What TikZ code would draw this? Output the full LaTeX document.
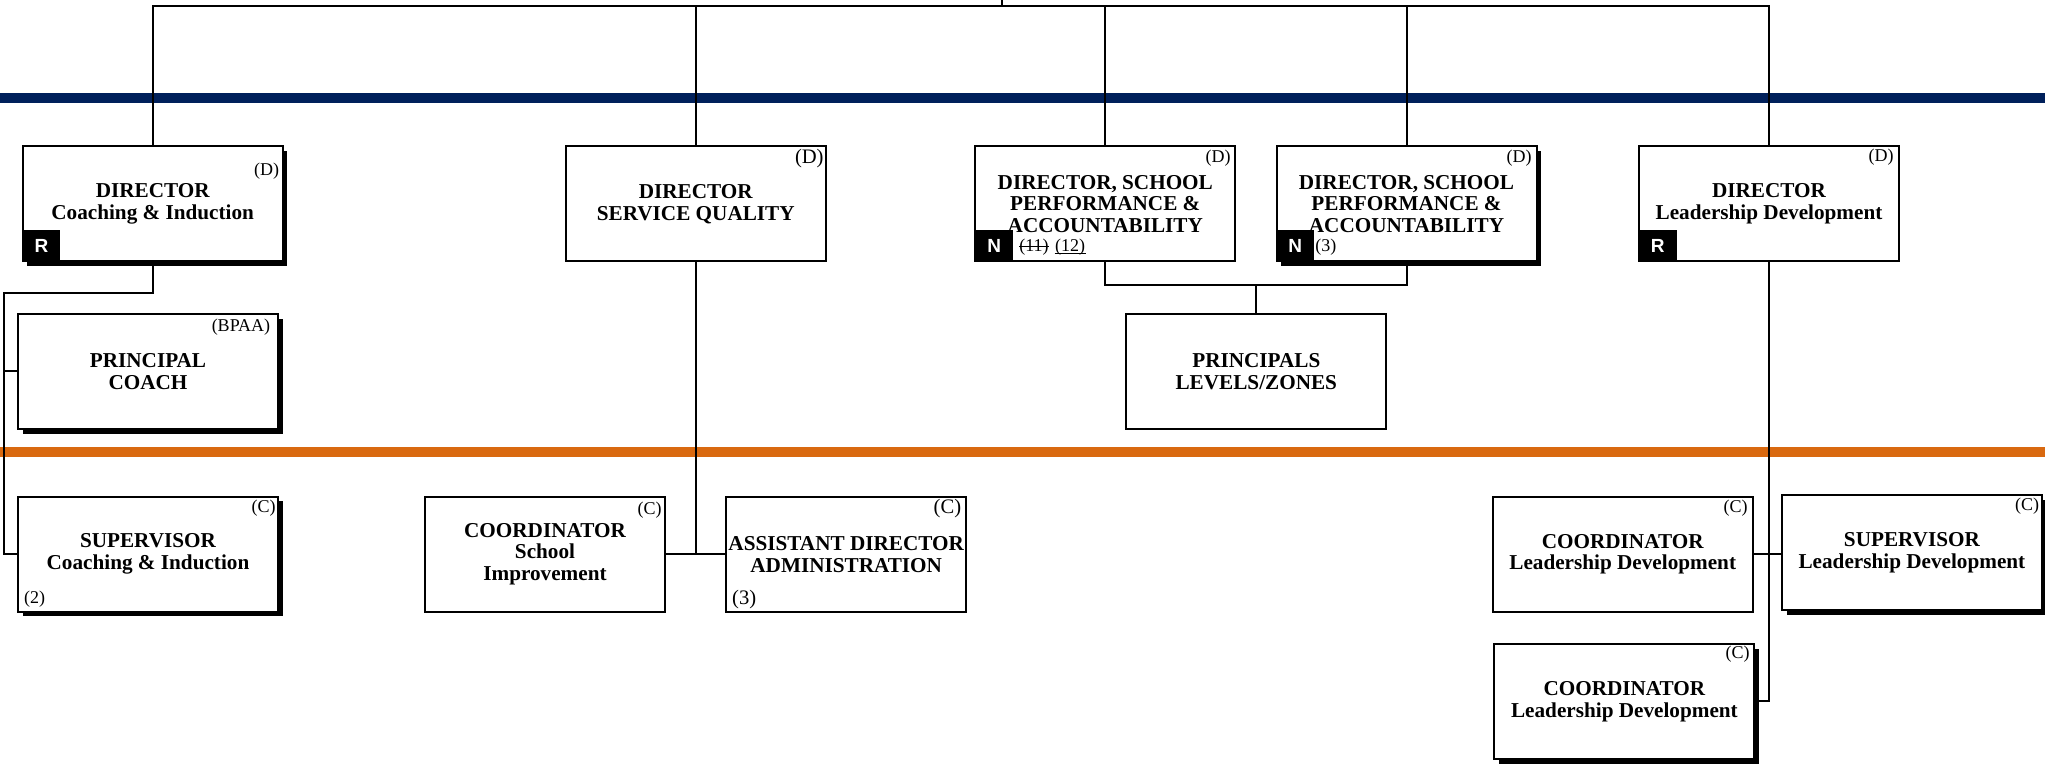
\documentclass[tikz,border=0pt]{standalone}
\usepackage{fontspec}
\setmainfont{Liberation Serif}
\newfontfamily\badgefont{Liberation Sans}
\usetikzlibrary{shadows}
\definecolor{navyband}{RGB}{0,32,91}
\definecolor{orangeband}{RGB}{217,105,16}
\tikzset{
  box/.style={draw=black, line width=1pt, fill=white, inner sep=0pt, outer sep=0pt, align=center,
    minimum width=130pt, minimum height=57.5pt,
    font=\fontsize{10.6}{10.95}\selectfont\bfseries},
  narrowbox/.style={box, minimum width=120pt},
  shbox/.style={box, drop shadow={shadow xshift=2.3pt, shadow yshift=-2.3pt, opacity=1, fill=black}},
  wire/.style={line width=1pt, draw=black},
  thinline/.style={line width=0.45pt, draw=black},
  badge/.style={fill=black, text=white, inner sep=0pt, outer sep=0pt, minimum width=18.8pt, minimum height=15.5pt,
    font=\fontsize{9.5}{9.5}\badgefont\bfseries},
  lbl/.style={inner sep=0pt, font=\fontsize{9}{9}\selectfont},
  biglbl/.style={inner sep=0pt, font=\fontsize{10.3}{10.3}\selectfont},
}
\begin{document}
\begin{tikzpicture}[x=0.5pt, y=-0.5pt]
\useasboundingbox (0,0) rectangle (2045,769);
% bands
\fill[navyband] (0,93.3) rectangle (2045,103.3);
\fill[orangeband] (0,446.7) rectangle (2045,456.7);

% top row
\node[shbox] (dci) at (152.7,204) {DIRECTOR\\Coaching \& Induction};
\node[box] (dsq) at (695.8,204) {DIRECTOR\\SERVICE QUALITY};
\node[box] (dspa1) at (1105.3,204) {DIRECTOR, SCHOOL\\PERFORMANCE \&\\ACCOUNTABILITY};
\node[shbox] (dspa2) at (1406.5,204) {DIRECTOR, SCHOOL\\PERFORMANCE \&\\ACCOUNTABILITY};
\node[box] (dld) at (1769,204) {DIRECTOR\\Leadership Development};

% second row
\node[shbox] (pcoach) at (148,371.5) {PRINCIPAL\\COACH};
\node[box] (princ) at (1256.3,371.2) {PRINCIPALS\\LEVELS/ZONES};

% third row
\node[shbox] (sci) at (148,554.2) {SUPERVISOR\\Coaching \& Induction};
\node[narrowbox] (csi) at (545,554.2) {COORDINATOR\\School\\Improvement};
\node[narrowbox] (asd) at (846.2,554.2) {ASSISTANT DIRECTOR\\ADMINISTRATION};
\node[box] (cld1) at (1622.7,554.2) {COORDINATOR\\Leadership Development};
\node[shbox] (sld) at (1911.9,552.9) {SUPERVISOR\\Leadership Development};
\node[shbox] (cld2) at (1624.4,701.4) {COORDINATOR\\Leadership Development};

% badges
\node[badge, anchor=south west] (bdci) at (dci.south west) {R};
\node[badge, anchor=south west] (bdspa1) at (dspa1.south west) {N};
\node[badge, anchor=south west] (bdspa2) at (dspa2.south west) {N};
\node[badge, anchor=south west] (bdld) at (dld.south west) {R};

% labels
\node[lbl, anchor=east] (ldci) at (279.5,171) {(D)};
\node[biglbl, anchor=east] (ldsq) at (824,158.3) {(D)};
\node[lbl, anchor=east] (ldspa1) at (1231,158.3) {(D)};
\node[lbl, anchor=east] (ldspa2) at (1532,158.3) {(D)};
\node[lbl, anchor=east] (ldld) at (1894,156.7) {(D)};
\node[lbl, anchor=east] (lpc) at (270.5,326.7) {(BPAA)};
\node[lbl, anchor=east] (lsci) at (276,508.3) {(C)};
\node[lbl, anchor=west] (nsci) at (23.7,599.5) {(2)};
\node[lbl, anchor=east] (lcsi) at (662,510) {(C)};
\node[biglbl, anchor=east] (lasd) at (961.5,508.3) {(C)};
\node[biglbl, anchor=west] (nasd) at (731.8,600) {(3)};
\node[lbl, anchor=east] (lcld1) at (1748,508.3) {(C)};
\node[lbl, anchor=east] (lsld) at (2039.5,506) {(C)};
\node[lbl, anchor=east] (lcld2) at (1750,654.3) {(C)};
\node[lbl, anchor=west] (n11) at (1019,247.3) {(11)};
\node[lbl, anchor=west] (n12) at (1054.7,247.3) {(12)};
\node[lbl, anchor=west] (ndspa2) at (1315,247.3) {(3)};
\draw[thinline] ([yshift=0.6pt]n11.west) -- ([yshift=0.6pt]n11.east);
\draw[thinline] ([yshift=-1pt]n12.base west) -- ([yshift=-1pt]n12.base east);

% connectors
\coordinate (top) at (1002,5.7);
\coordinate (tick) at (1002,0);
\draw[wire] (top) -- (tick);
\draw[wire] (dci.north) -- (dci.north |- top) -- (dld.north |- top) -- (dld.north);
\draw[wire] (dsq.north) -- (dsq.north |- top);
\draw[wire] (dspa1.north) -- (dspa1.north |- top);
\draw[wire] (dspa2.north) -- (dspa2.north |- top);

\coordinate (spL) at (4,292.7);
\draw[wire] (dci.south) |- (spL) |- (sci.west);
\draw[wire] (spL |- pcoach.west) -- (pcoach.west);

\draw[wire] (dsq.south) -- (dsq.south |- csi.east);
\draw[wire] (csi.east) -- (asd.west);

\coordinate (jn) at (1256.3,285);
\draw[wire] (dspa1.south) |- (jn) -| (dspa2.south);
\draw[wire] (jn) -- (princ.north);

\draw[wire] (dld.south) |- (cld2.east);
\draw[wire] (cld1.east) -- (sld.west |- cld1.east);
\end{tikzpicture}
\end{document}
